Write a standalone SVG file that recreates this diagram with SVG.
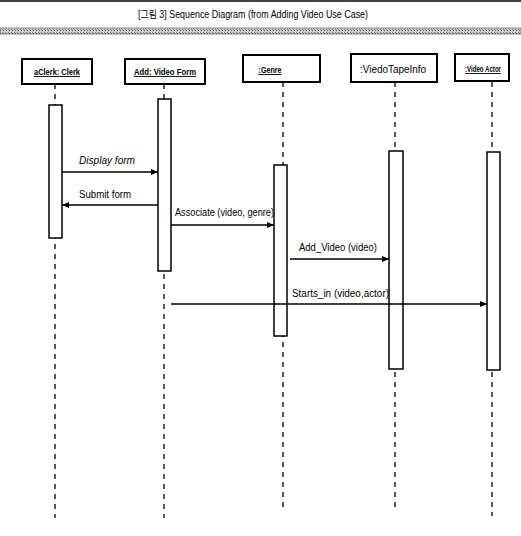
<svg xmlns="http://www.w3.org/2000/svg" width="521" height="536" viewBox="0 0 521 536">
<defs>
<pattern id="hatch" width="3" height="3" patternUnits="userSpaceOnUse">
<rect width="3" height="3" fill="#d0d0d0"/>
<rect width="1" height="1" fill="#555"/>
<rect x="2" y="2" width="1" height="1" fill="#777"/>
</pattern>
<marker id="ah" markerWidth="8" markerHeight="8" refX="7" refY="4" orient="auto" markerUnits="userSpaceOnUse">
<path d="M0,1 L7,4 L0,7 Z" fill="#000"/>
</marker>
</defs>
<style>
.box{fill:#fff;stroke:#000;stroke-width:2}
.act{fill:#fff;stroke:#000;stroke-width:1.5}
.life{stroke:#000;stroke-width:1.3;stroke-dasharray:5 5;fill:none}
.msg{stroke:#000;stroke-width:1.3;fill:none;marker-end:url(#ah)}
.lbl{font-family:"Liberation Sans",Arial,sans-serif;font-size:10px;fill:#000}
.obj{font-family:"Liberation Sans",Arial,sans-serif;font-size:9px;fill:#000;text-decoration:underline;font-weight:bold}
.ttl{font-family:"Liberation Sans","Noto Sans CJK KR",sans-serif;font-size:10.5px;fill:#000}
</style>
<rect width="521" height="536" fill="#fff"/>
<line x1="0" y1="1" x2="521" y2="1" stroke="#000" stroke-width="1.5"/>
<text class="ttl" x="253" y="18" text-anchor="middle" textLength="230" lengthAdjust="spacingAndGlyphs">[그림 3] Sequence Diagram (from Adding Video Use Case)</text>
<rect x="0" y="28" width="521" height="6" fill="url(#hatch)" stroke="#444" stroke-width="0.6"/>

<g id="lifelines">
<line class="life" x1="55" y1="84" x2="55" y2="518"/>
<line class="life" x1="164" y1="84" x2="164" y2="518"/>
<line class="life" x1="283" y1="82" x2="283" y2="510"/>
<line class="life" x1="395" y1="82" x2="395" y2="510"/>
<line class="life" x1="492" y1="82" x2="492" y2="516"/>
</g>

<g id="clerk">
<rect class="box" x="22" y="59" width="70" height="25"/>
<text class="obj" x="57" y="75" text-anchor="middle" textLength="46" lengthAdjust="spacingAndGlyphs">aClerk: Clerk</text>
<rect class="act" x="49" y="105" width="13" height="133"/>
</g>
<g id="videoform">
<rect class="box" x="125" y="59" width="80" height="25"/>
<text class="obj" x="165" y="75" text-anchor="middle" textLength="62" lengthAdjust="spacingAndGlyphs">Add: Video Form</text>
<rect class="act" x="158" y="99" width="13" height="172"/>
</g>
<g id="genre">
<rect class="box" x="243" y="55" width="77" height="27"/>
<text class="obj" x="270" y="73" text-anchor="middle" textLength="23" lengthAdjust="spacingAndGlyphs">:Genre</text>
<rect class="act" x="274" y="165" width="13" height="171"/>
</g>
<g id="videotapeinfo">
<rect class="box" x="351" y="54" width="86" height="28"/>
<text class="lbl" x="393" y="73" text-anchor="middle" textLength="66" lengthAdjust="spacingAndGlyphs">:ViedoTapeInfo</text>
<rect class="act" x="389" y="151" width="14" height="218"/>
</g>
<g id="videoactor">
<rect class="box" x="455" y="54" width="54" height="27"/>
<text class="obj" x="483" y="72" text-anchor="middle" textLength="36" lengthAdjust="spacingAndGlyphs">:Video Actor</text>
<rect class="act" x="487" y="152" width="13" height="218"/>
</g>

<g id="messages">
<line class="msg" x1="62" y1="172" x2="158" y2="172"/>
<text class="lbl" x="79" y="164" font-style="italic" textLength="56" lengthAdjust="spacingAndGlyphs">Display form</text>
<line class="msg" x1="158" y1="205" x2="62" y2="205"/>
<text class="lbl" x="79" y="198" textLength="52" lengthAdjust="spacingAndGlyphs">Submit form</text>
<line class="msg" x1="171" y1="225" x2="274" y2="225"/>
<text class="lbl" x="175" y="216" textLength="99" lengthAdjust="spacingAndGlyphs">Associate (video, genre)</text>
<line class="msg" x1="290" y1="259" x2="389" y2="259"/>
<text class="lbl" x="299" y="251" textLength="78" lengthAdjust="spacingAndGlyphs">Add_Video (video)</text>
<line class="msg" x1="171" y1="304" x2="487" y2="304"/>
<text class="lbl" x="292" y="297" textLength="97" lengthAdjust="spacingAndGlyphs">Starts_in (video,actor)</text>
</g>
</svg>
